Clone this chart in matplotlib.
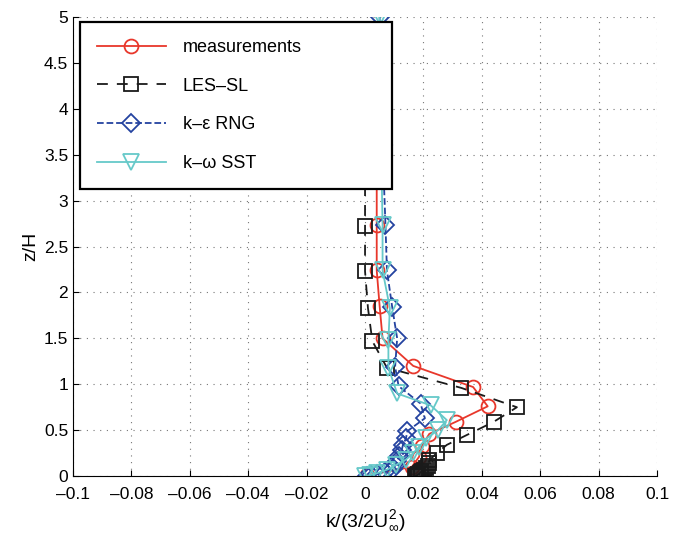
import numpy as np
import matplotlib
matplotlib.use('Agg')
import matplotlib.pyplot as plt

plt.rcParams['font.family'] = ['Liberation Sans', 'DejaVu Sans']
plt.rcParams['mathtext.fontset'] = 'custom'
plt.rcParams['mathtext.rm'] = 'Liberation Sans'
plt.rcParams['mathtext.it'] = 'Liberation Sans'

# measurements
meas_z = [0.01, 0.1, 0.21, 0.33, 0.46, 0.59, 0.76, 0.97, 1.2, 1.5, 1.85, 2.24, 2.73, 3.6, 4.0]
meas_k = [0.0007, 0.016, 0.0185, 0.0195, 0.022, 0.031, 0.042, 0.037, 0.0165, 0.006, 0.005, 0.004, 0.004, 0.004, 0.004]

# LES-SL
les_z = [0.0, 0.005, 0.01, 0.015, 0.02, 0.03, 0.04, 0.055, 0.07, 0.09, 0.11, 0.14, 0.17, 0.25, 0.34,
         0.45, 0.59, 0.75, 0.96, 1.18, 1.47, 1.83, 2.23, 2.72, 3.6, 4.0]
les_k = [0.0172, 0.0175, 0.0178, 0.018, 0.0183, 0.0187, 0.019, 0.0195, 0.0203, 0.021, 0.0215, 0.0218,
         0.022, 0.0245, 0.028, 0.035, 0.044, 0.052, 0.033, 0.0075, 0.0025, 0.001, 0.0, 0.0, 0.0, 0.0]

# k-eps RNG
rng_z = [0.0, 0.01, 0.02, 0.05, 0.08, 0.12, 0.16, 0.22, 0.28, 0.34, 0.41, 0.49, 0.63, 0.79, 0.98,
         1.19, 1.5, 1.84, 2.24, 2.73, 3.6, 4.1, 4.6, 5.0]
rng_k = [0.0005, 0.002, 0.004, 0.007, 0.0095, 0.0105, 0.011, 0.0115, 0.0125, 0.013, 0.014, 0.0145,
         0.0205, 0.019, 0.0115, 0.0103, 0.011, 0.0093, 0.0075, 0.007, 0.006, 0.0055, 0.005, 0.005]

# k-omega SST
sst_z = [0.0, 0.01, 0.03, 0.07, 0.12, 0.18, 0.25, 0.32, 0.41, 0.5, 0.61, 0.77, 0.9, 1.18, 1.48,
         1.83, 2.24, 2.73, 3.6, 4.3, 5.0]
sst_k = [0.0, 0.0017, 0.004, 0.0075, 0.0105, 0.014, 0.0165, 0.0185, 0.021, 0.025, 0.028, 0.0225,
         0.011, 0.008, 0.008, 0.0085, 0.006, 0.006, 0.0055, 0.005, 0.005]

xticks = [-0.1, -0.08, -0.06, -0.04, -0.02, 0, 0.02, 0.04, 0.06, 0.08, 0.1]
yticks = [0, 0.5, 1, 1.5, 2, 2.5, 3, 3.5, 4, 4.5, 5]

fig = plt.figure(figsize=(6.76, 5.46), dpi=100)
ax = fig.add_axes([0.108, 0.128, 0.864, 0.841])

ax.plot(meas_k, meas_z, color='#e8372b', linestyle='-', lw=1.3, marker='o',
        markersize=10, markerfacecolor='none', markeredgewidth=1.3, label='measurements')
ax.plot(les_k, les_z, color='#1a1a1a', linestyle=(0, (6, 5)), lw=1.3, marker='s',
        markersize=10, markerfacecolor='none', markeredgewidth=1.3, label='LES\u2013SL')
ax.plot(rng_k, rng_z, color='#2443a0', linestyle='--', lw=1.3, marker='D',
        markersize=9, markerfacecolor='none', markeredgewidth=1.3, label='k\u2013\u03b5 RNG')
ax.plot(sst_k, sst_z, color='#66c9c9', linestyle='-', lw=1.3, marker='v',
        markersize=11, markerfacecolor='none', markeredgewidth=1.3, label='k\u2013\u03c9 SST')

ax.set_xlim(-0.1, 0.1)
ax.set_ylim(0, 5)
ax.set_xticks(xticks)
ax.set_xticklabels([('%g' % v).replace('-', '\u2013') for v in xticks])
ax.set_yticks(yticks)
ax.set_yticklabels(['%g' % v for v in yticks])
ax.tick_params(direction='in', length=4, labelsize=12.5, width=0.8)
ax.tick_params(axis='x', pad=8)
ax.spines['top'].set_visible(False)
ax.spines['right'].set_visible(False)
ax.grid(True, linestyle=(0, (1, 5)), color='#777777', lw=0.8)

ax.set_xlabel(r'k/(3/2U$_{\infty}^{2}$)', fontsize=14, labelpad=4)
ax.set_ylabel('z/H', fontsize=14, labelpad=3)

leg = ax.legend(loc='upper left', bbox_to_anchor=(0.012, 0.638, 0.534, 0.351), mode='expand',
                borderaxespad=0, fontsize=13, handlelength=3.8, labelspacing=1.2,
                borderpad=0.95, handletextpad=0.95,
                fancybox=False, framealpha=1, edgecolor='black')
leg.get_frame().set_linewidth(1.6)
leg.set_zorder(10)

fig.savefig('out.png', dpi=100)
